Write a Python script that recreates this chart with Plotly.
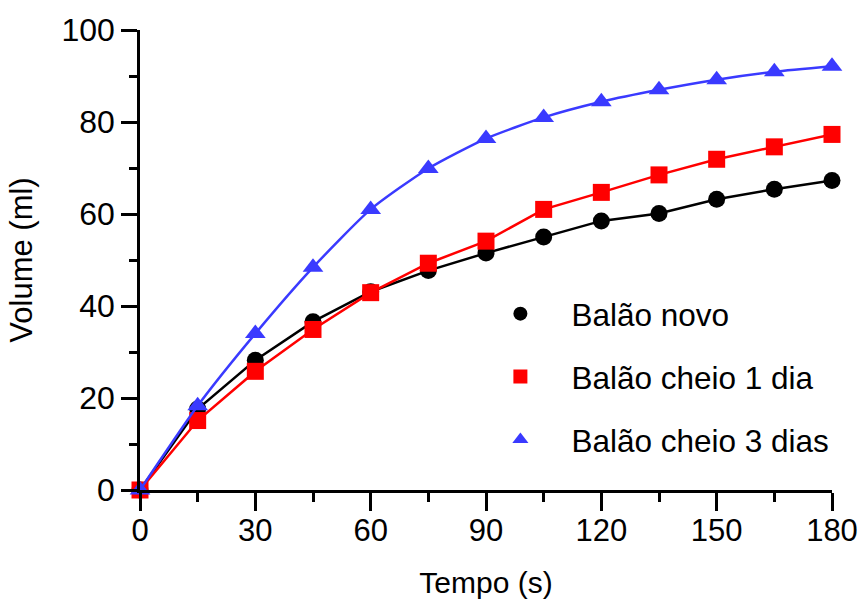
import plotly.graph_objects as go

tempo = [0, 15, 30, 45, 60, 75, 90, 105, 120, 135, 150, 165, 180]
balao_novo = [0, 17.6, 28.2, 36.6, 43.1, 47.7, 51.5, 55.0, 58.5, 60.1, 63.2, 65.4, 67.3]
balao_1_dia = [0, 15.1, 25.8, 34.9, 42.9, 49.3, 54.1, 61.0, 64.7, 68.5, 71.9, 74.6, 77.3]
balao_3_dias = [0, 18.3, 34.0, 48.4, 61.0, 69.9, 76.4, 81.0, 84.4, 87.0, 89.2, 90.9, 92.1]

names = ["Balão novo", "Balão cheio 1 dia", "Balão cheio 3 dias"]
colors = ["#000000", "#ff0000", "#3a3aff"]
symbols = ["circle", "square", "triangle-up"]
shapes = ["linear", "linear", "spline"]
series = [balao_novo, balao_1_dia, balao_3_dias]

FONT = "Liberation Sans, Arial, sans-serif"

fig = go.Figure()

for name, ys, col, sym, shp in zip(names, series, colors, symbols, shapes):
    fig.add_trace(go.Scatter(
        x=tempo, y=ys, mode="lines+markers", showlegend=False,
        line=dict(color=col, width=2.5, shape=shp, smoothing=0.6),
        marker=dict(symbol=sym, size=17 if sym != "triangle-up" else 18, color=col),
        cliponaxis=False,
    ))

# legend entries show the marker only
for i, (name, col, sym) in enumerate(zip(names, colors, symbols)):
    fig.add_trace(go.Scatter(
        x=[None], y=[None], mode="markers", name=name, legendgroup=f"g{i}",
        marker=dict(symbol=sym, size=14, color=col),
    ))

axis_common = dict(
    showline=True, linecolor="black", linewidth=2.5,
    ticks="outside", tickwidth=2.5, tickcolor="black",
    showgrid=False, zeroline=False, automargin=False,
)

fig.update_xaxes(
    range=[0, 180], tickvals=[0, 30, 60, 90, 120, 150, 180], ticklen=18,
    ticklabelstandoff=-7,
    minor=dict(tickvals=[15, 45, 75, 105, 135, 165], ticks="outside", ticklen=9,
               tickwidth=2.5, tickcolor="black"),
    tickfont=dict(family=FONT, size=31, color="black"),
    title=dict(text="Tempo (s)", standoff=26,
               font=dict(family=FONT, size=30, color="black")),
    **axis_common,
)
fig.update_yaxes(
    range=[0, 100], tickvals=[0, 20, 40, 60, 80, 100], ticklen=16,
    minor=dict(tickvals=[10, 30, 50, 70, 90], ticks="outside", ticklen=8,
               tickwidth=2.5, tickcolor="black"),
    tickfont=dict(family=FONT, size=32, color="black"),
    title=dict(text="Volume (ml)", standoff=20,
               font=dict(family=FONT, size=31, color="black")),
    **axis_common,
)

fig.update_layout(
    width=861, height=599,
    margin=dict(l=140, r=29, t=30, b=109),
    plot_bgcolor="white", paper_bgcolor="white",
    legend=dict(
        x=0.476, y=0.442, xanchor="left", yanchor="top",
        font=dict(family=FONT, size=31.5, color="black"),
        bgcolor="rgba(0,0,0,0)", itemwidth=92, tracegroupgap=19,
    ),
)

fig.write_html("out.html")
